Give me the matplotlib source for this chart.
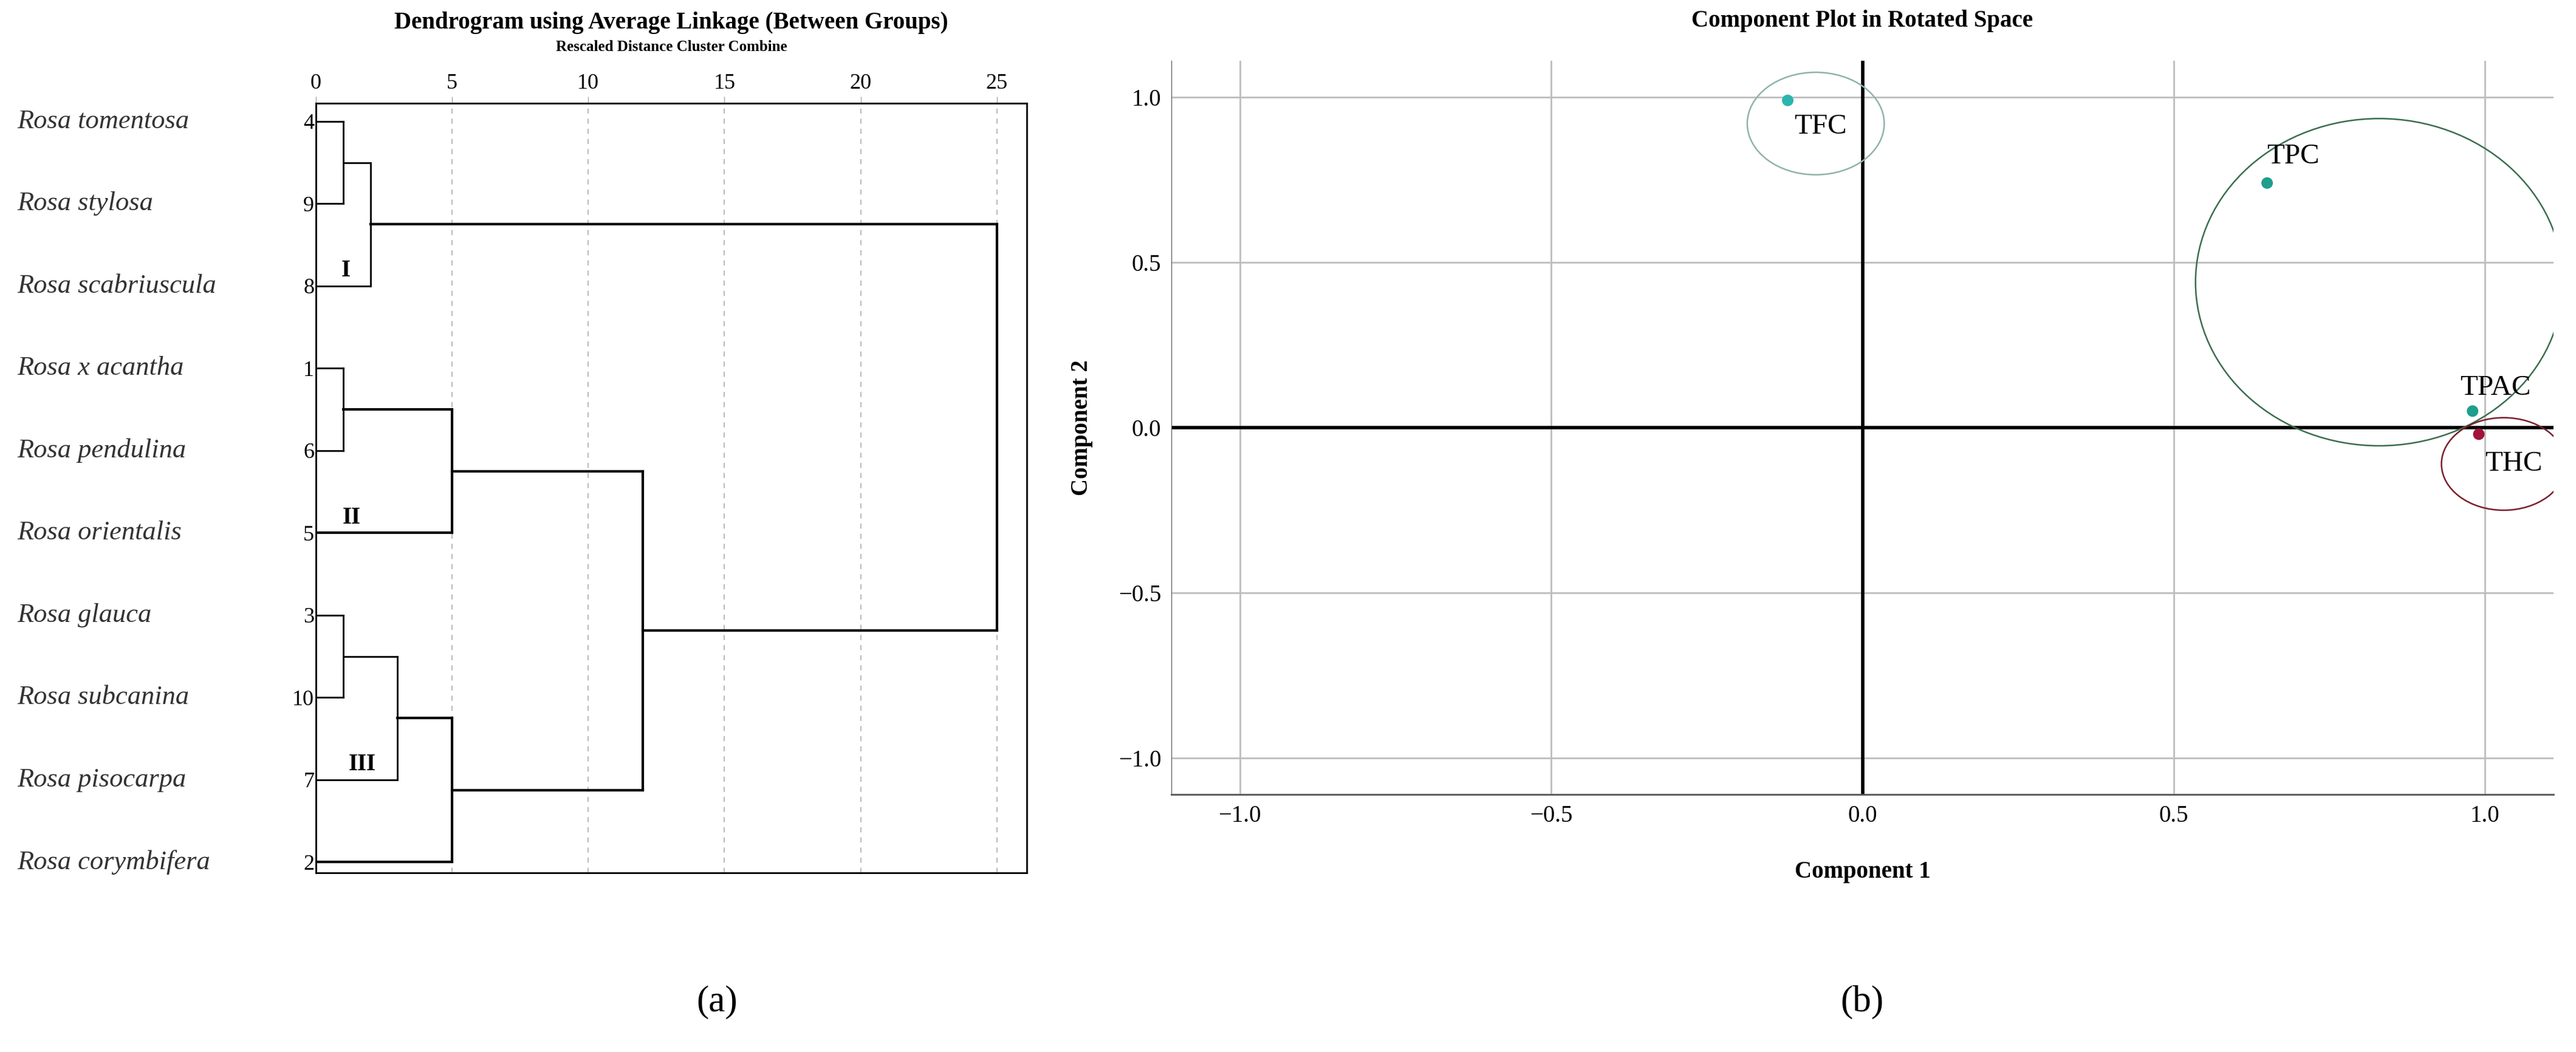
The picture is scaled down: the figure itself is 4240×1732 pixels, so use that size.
import matplotlib.pyplot as plt
from matplotlib.patches import Ellipse

plt.rcParams['font.family'] = ['Liberation Serif', 'DejaVu Serif']

# dendrogram data
species = ['Rosa tomentosa', 'Rosa stylosa', 'Rosa scabriuscula', 'Rosa x acantha',
           'Rosa pendulina', 'Rosa orientalis', 'Rosa glauca', 'Rosa subcanina',
           'Rosa pisocarpa', 'Rosa corymbifera']
case_ids = ['4', '9', '8', '1', '6', '5', '3', '10', '7', '2']
# merges: (row/cluster a, row/cluster b, distance); rows 0..9 top to bottom
merges = [(0, 1, 1), ('m0', 2, 2),
          (3, 4, 1), ('m2', 5, 5),
          (6, 7, 1), ('m4', 8, 3), ('m5', 9, 5),
          ('m3', 'm6', 12), ('m1', 'm7', 25)]
cluster_names = ['I', 'II', 'III']
cluster_pos = [(1.1, 1.95), (1.3, 4.95), (1.7, 7.95)]

# component plot data
var_names = ['TFC', 'TPC', 'TPAC', 'THC']
comp1 = [-0.12, 0.65, 0.98, 0.99]
comp2 = [0.99, 0.74, 0.05, -0.02]
point_colors = ['#2bb5ad', '#1e9e8c', '#1e9e8c', '#a3123a']

fig = plt.figure(figsize=(42.4, 17.32), dpi=100)

# ---- (a) dendrogram ----
ax = fig.add_axes([520 / 4240, 1 - 1437 / 1732, 1170 / 4240, (1437 - 170) / 1732])
nodes = {}
for i in range(len(species)):
    nodes[i] = (i, 0.0)
for k, (a, b, d) in enumerate(merges):
    ya, xa = nodes[a]
    yb, xb = nodes[b]
    lw = 3 if d >= 5 else 2
    ax.plot([xa, d], [ya, ya], color='black', lw=lw)
    ax.plot([xb, d], [yb, yb], color='black', lw=lw)
    ax.plot([d, d], [ya, yb], color='black', lw=lw)
    nodes['m%d' % k] = ((ya + yb) / 2, d)
for xv in [5, 10, 15, 20, 25]:
    ax.axvline(xv, color='#bbbbbb', ls=(0, (4, 4)), lw=1.5, zorder=0)
for name, (xp, yp) in zip(cluster_names, cluster_pos):
    ax.text(xp, yp, name, fontsize=28, fontweight='bold', ha='center', va='bottom')
ax.set_xlim(0, 26.1)
ax.set_ylim(9.13, -0.22)
ax.xaxis.tick_top()
ax.set_xticks([0, 5, 10, 15, 20, 25])
ax.tick_params(axis='x', labelsize=26, color='#999999', length=8)
ax.set_yticks(range(len(species)))
ax.set_yticklabels(case_ids, fontsize=26)
ax.tick_params(axis='y', length=0, pad=2)
for sp in ax.spines.values():
    sp.set_linewidth(2)
for i, s in enumerate(species):
    ax.text(-0.42, i, s, transform=ax.get_yaxis_transform(), fontsize=32,
            style='italic', va='center', ha='left', color='#333333')
fig.text(1105 / 4240, 1 - 38 / 1732, 'Dendrogram using Average Linkage (Between Groups)',
         fontsize=28, fontweight='bold', ha='center', va='center')
fig.text(1105 / 4240, 1 - 78 / 1732, 'Rescaled Distance Cluster Combine',
         fontsize=18, fontweight='bold', ha='center', va='center')
fig.text(1180 / 4240, 1 - 1650 / 1732, '(a)', fontsize=44, ha='center', va='center')

# ---- (b) component plot ----
bx = fig.add_axes([1928 / 4240, 1 - 1308 / 1732, (4203 - 1928) / 4240, (1308 - 100) / 1732])
bx.set_xlim(-1.11, 1.11)
bx.set_ylim(-1.11, 1.11)
for v in [-1.0, -0.5, 0.5, 1.0]:
    bx.axvline(v, color='#bdbdbd', lw=2, zorder=0)
    bx.axhline(v, color='#bdbdbd', lw=2, zorder=0)
bx.axvline(0, color='black', lw=4, zorder=1)
bx.axhline(0, color='black', lw=4, zorder=1)
bx.scatter(comp1, comp2, s=160, c=point_colors, zorder=3)
label_off = [(0.01, -0.08), (0.0, 0.08), (-0.02, 0.07), (0.01, -0.09)]
for n, x, y, (dx, dy) in zip(var_names, comp1, comp2, label_off):
    bx.text(x + dx, y + dy, n, fontsize=34, ha='left', va='center', zorder=4)
bx.add_patch(Ellipse((-0.075, 0.92), 0.22, 0.31, fill=False, ec='#8fb3ad', lw=1.8))
bx.add_patch(Ellipse((0.83, 0.44), 0.59, 0.99, fill=False, ec='#3b6e4e', lw=1.8))
bx.add_patch(Ellipse((1.03, -0.11), 0.2, 0.28, fill=False, ec='#7a1f2b', lw=1.8))
bx.set_xticks([-1.0, -0.5, 0.0, 0.5, 1.0])
bx.set_yticks([-1.0, -0.5, 0.0, 0.5, 1.0])
bx.tick_params(labelsize=28, length=0, pad=12)
for sp in ['top', 'right']:
    bx.spines[sp].set_visible(False)
bx.spines['left'].set_color('#555555')
bx.spines['bottom'].set_color('#555555')
bx.spines['bottom'].set_linewidth(2)
bx.set_xlabel('Component 1', fontsize=28, fontweight='bold', labelpad=40)
bx.set_ylabel('Component 2', fontsize=28, fontweight='bold', labelpad=30)
bx.set_title('Component Plot in Rotated Space', fontsize=28, fontweight='bold', pad=40)
fig.text(3065 / 4240, 1 - 1650 / 1732, '(b)', fontsize=44, ha='center', va='center')

fig.savefig('out.png', dpi=100)
